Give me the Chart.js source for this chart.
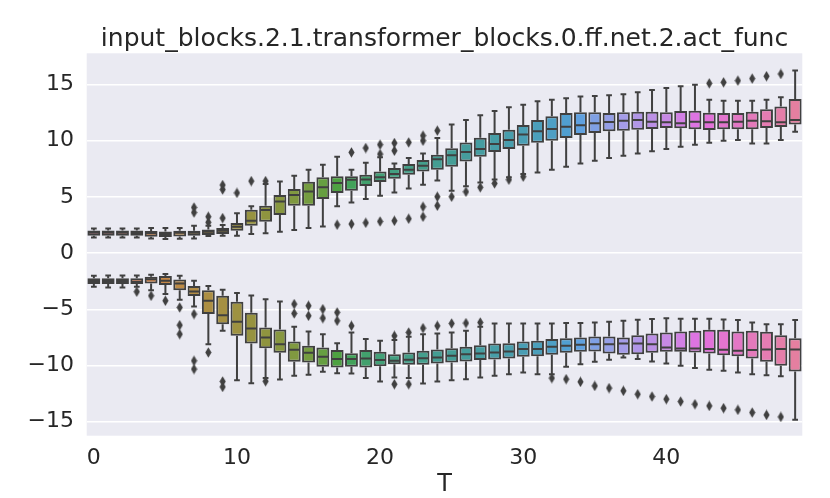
<!DOCTYPE html>
<html><head><meta charset="utf-8">
<script src="https://cdn.jsdelivr.net/npm/chart.js@4.4.0/dist/chart.umd.min.js"></script>
<style>html,body{margin:0;padding:0;background:#fff;}#wrap{width:830px;height:498px;}</style>
</head><body><div id="wrap"><canvas id="c" width="830" height="498"></canvas></div>
<script>
const categories = [0,1,2,3,4,5,6,7,8,9,10,11,12,13,14,15,16,17,18,19,20,21,22,23,24,25,26,27,28,29,30,31,32,33,34,35,36,37,38,39,40,41,42,43,44,45,46,47,48,49];
const xTickLabels = [0,10,20,30,40];
const yTicks = [-15,-10,-5,0,5,10,15];
const titleText = 'input_blocks.2.1.transformer_blocks.0.ff.net.2.act_func';
const xLabel = 'T';

// upper group (positive activations)
const upperLow  = [1.39,1.39,1.39,1.39,1.30,1.24,1.27,1.30,1.51,1.54,1.54,1.69,1.75,1.89,2.04,2.22,2.37,4.15,4.50,4.80,5.10,5.39,5.75,6.08,6.46,5.54,5.93,6.28,6.55,6.73,7.03,7.17,7.41,7.68,7.97,8.21,8.45,8.66,8.86,9.04,9.25,9.46,9.64,9.81,9.99,10.05,9.75,9.75,10.05,10.79];
const upperQ1   = [1.54,1.54,1.54,1.54,1.45,1.42,1.48,1.54,1.60,1.69,1.98,2.43,2.78,3.38,4.21,4.21,4.80,5.33,5.54,5.96,6.31,6.61,6.97,7.26,7.41,7.68,8.15,8.57,8.98,9.25,9.55,9.81,9.99,10.23,10.50,10.67,10.82,10.88,10.97,11.03,11.12,11.09,11.00,10.94,11.00,11.00,11.00,11.12,11.21,11.42];
const upperMed  = [1.81,1.81,1.80,1.78,1.75,1.69,1.81,1.81,1.89,1.98,2.34,2.87,3.82,4.59,5.16,5.48,5.84,6.22,6.52,6.55,6.73,7.03,7.41,7.77,8.33,8.69,8.98,9.25,9.69,10.05,10.53,10.82,11.03,11.24,11.36,11.53,11.65,11.77,11.83,11.68,11.62,11.53,11.68,11.62,11.62,11.68,11.77,11.71,11.62,11.83];
const upperQ3   = [2.01,2.01,2.01,2.01,1.95,1.92,1.98,1.98,2.10,2.22,2.67,3.85,4.21,5.16,5.69,6.34,6.73,6.82,6.82,6.97,7.26,7.56,7.92,8.27,8.75,9.31,9.84,10.26,10.67,10.97,11.39,11.83,12.16,12.45,12.51,12.51,12.45,12.51,12.57,12.57,12.51,12.63,12.66,12.48,12.45,12.45,12.57,12.78,13.02,13.70];
const upperHigh = [2.19,2.19,2.19,2.19,2.22,2.22,2.22,2.43,2.43,2.49,3.53,4.15,6.15,6.37,6.88,7.40,7.86,8.57,7.41,8.03,8.51,7.97,8.45,8.86,10.23,11.42,11.83,12.25,12.63,12.96,13.19,13.49,13.64,13.76,13.91,13.97,14.03,14.11,14.29,14.50,14.68,14.83,14.97,13.64,13.55,13.55,13.55,13.64,13.85,16.22];
const upperOut  = [[],[],[],[],[],[],[],[3.6,4.05],[2.73,3.23],[3.11,5.65,6.05],[5.35],[6.4],[6.4],[],[],[],[],[2.52],[2.58,8.95],[2.69,9.34],[2.81,8.8,9.64],[2.87,9.10,9.78],[3.05,9.84],[3.23,4.12,9.99,10.44],[4.21,5.01,10.88],[5.01],[5.45],[5.84],[6.19],[6.52],[6.79],[],[],[],[],[],[],[],[],[],[],[],[],[15.09],[15.18],[15.33],[15.51],[15.72],[15.92],[]];

// lower group (negative activations)
const lowerLow  = [-3.00,-3.06,-3.06,-3.00,-3.30,-3.65,-4.16,-4.75,-8.10,-6.91,-11.30,-11.57,-11.10,-11.24,-10.92,-10.83,-10.56,-10.68,-10.71,-11.12,-11.42,-11.07,-11.12,-11.60,-11.42,-11.30,-11.21,-11.07,-10.92,-10.77,-10.62,-10.77,-10.77,-10.12,-9.88,-9.67,-9.49,-9.29,-9.43,-9.64,-9.82,-10.03,-10.21,-10.38,-10.47,-10.62,-10.77,-10.86,-10.95,-14.83];
const lowerQ1   = [-2.76,-2.76,-2.76,-2.76,-2.70,-2.85,-3.30,-3.83,-5.43,-6.32,-7.36,-8.04,-8.46,-8.87,-9.67,-9.73,-10.12,-10.18,-10.12,-10.18,-10.06,-9.88,-9.94,-9.94,-9.82,-9.73,-9.64,-9.52,-9.46,-9.38,-9.23,-9.17,-9.05,-8.87,-8.78,-8.75,-8.93,-9.05,-8.99,-8.87,-8.78,-8.78,-8.84,-8.93,-9.08,-9.17,-9.38,-9.67,-10.03,-10.53];
const lowerMed  = [-2.49,-2.49,-2.49,-2.55,-2.32,-2.46,-2.70,-3.41,-4.24,-5.52,-6.11,-6.71,-7.51,-8.10,-8.60,-8.87,-9.23,-9.43,-9.43,-9.38,-9.52,-9.58,-9.49,-9.35,-9.29,-9.14,-8.99,-8.93,-8.84,-8.75,-8.54,-8.54,-8.34,-8.25,-8.16,-8.10,-8.10,-8.04,-8.04,-8.10,-8.40,-8.49,-8.49,-8.54,-8.60,-8.69,-8.63,-8.57,-8.54,-8.57];
const lowerQ3   = [-2.23,-2.23,-2.23,-2.23,-2.11,-2.05,-2.35,-2.94,-3.30,-3.80,-4.33,-5.31,-6.62,-6.80,-7.86,-8.25,-8.40,-8.63,-8.90,-8.63,-8.78,-8.99,-8.84,-8.69,-8.57,-8.46,-8.34,-8.19,-8.04,-8.01,-7.86,-7.80,-7.65,-7.57,-7.51,-7.42,-7.42,-7.51,-7.30,-7.15,-7.06,-6.97,-6.91,-6.82,-6.82,-6.97,-6.91,-7.00,-7.30,-7.57];
const lowerHigh = [-2.02,-1.99,-1.99,-1.99,-1.93,-1.87,-2.02,-2.46,-2.94,-3.27,-3.56,-3.77,-4.10,-4.30,-6.56,-6.97,-7.21,-8.01,-7.06,-7.65,-7.80,-7.74,-7.45,-7.21,-7.15,-7.06,-6.91,-6.56,-6.26,-6.26,-6.26,-6.26,-6.26,-6.23,-6.23,-6.17,-6.11,-6.02,-5.93,-5.87,-5.79,-5.85,-5.85,-5.85,-5.90,-5.96,-6.17,-6.32,-6.32,-5.96];
const lowerOut  = [[],[],[],[-3.44],[-3.80],[-4.24],[-4.84,-6.41,-7.21],[-5.43,-9.58,-10.32],[-8.84],[-11.42,-11.90],[],[],[-11.4],[],[-4.54,-5.37],[-4.69,-5.58],[-4.99,-5.79],[-5.28,-6.02],[-6.47],[],[],[-11.66,-7.36],[-11.66,-7.06],[-6.68],[-6.47],[-6.26],[-6.23],[-6.17],[],[],[],[],[-11.12],[-11.21],[-11.45],[-11.81],[-12.01],[-12.25],[-12.55],[-12.76],[-12.99],[-13.2],[-13.44],[-13.59],[-13.79],[-13.94],[-14.18],[-14.39],[-14.57],[]];

// ---- seaborn husl palette (h=0.01, s=0.9, l=0.65), desaturated 0.75 ----
const M = [[3.2406,-1.5372,-0.4986],[-0.9689,1.8758,0.0415],[0.0557,-0.2040,1.0570]];
function maxChroma(L,H){
  const hr=H*Math.PI/180, sH=Math.sin(hr), cH=Math.cos(hr);
  const sub1=Math.pow(L+16,3)/1560896, sub2=sub1>0.008856?sub1:L/903.3;
  let res=Infinity;
  for(const [m1,m2,m3] of M){
    const top=(0.99915*m1+1.05122*m2+1.14460*m3)*sub2;
    const rb=0.86330*m3-0.17266*m2, lb=0.12949*m3-0.38848*m1;
    const bottom=(rb*sH+lb*cH)*sub2;
    for(const t of [0,1]){const C=L*(top-1.05122*t)/(bottom+0.17266*sH*t); if(C>0&&C<res)res=C;}
  }
  return res;
}
function huslToRgb(H,S,L){
  const C=maxChroma(L,H)/100*S, hr=H*Math.PI/180;
  const U=Math.cos(hr)*C, V=Math.sin(hr)*C;
  const t=(L+16)/116, vY=Math.pow(t,3)>0.008856?Math.pow(t,3):(116*t-16)/903.3;
  const vU=U/(13*L)+0.19784, vV=V/(13*L)+0.46834;
  const Y=vY, X=-(9*Y*vU)/((vU-4)*vV-vU*vV), Z=(9*Y-15*vV*Y-vV*X)/(3*vV);
  return M.map(r=>{const c=r[0]*X+r[1]*Y+r[2]*Z; const v=c<=0.0031308?12.92*c:1.055*Math.pow(c,1/2.4)-0.055; return Math.min(1,Math.max(0,v));});
}
function rgbToHls(r,g,b){
  const mx=Math.max(r,g,b), mn=Math.min(r,g,b), l=(mx+mn)/2;
  if(mx===mn) return [0,l,0];
  const s=l<=0.5?(mx-mn)/(mx+mn):(mx-mn)/(2-mx-mn);
  const rc=(mx-r)/(mx-mn), gc=(mx-g)/(mx-mn), bc=(mx-b)/(mx-mn);
  let h; if(r===mx)h=bc-gc; else if(g===mx)h=2+rc-bc; else h=4+gc-rc;
  h=((h/6)%1+1)%1; return [h,l,s];
}
const nCat = categories.length;
const hls = categories.map((_,i)=>{const h=((i/nCat+0.01)%1)*359; const [r,g,b]=huslToRgb(h,0.9*99,0.65*99); return rgbToHls(r,g,b);});
const boxColors = hls.map(([h,l,s])=>`hsl(${(h*360).toFixed(2)},${(s*0.75*100).toFixed(2)}%,${(l*100).toFixed(2)}%)`);
const lum = Math.min(...hls.map(c=>c[1]))*0.6;
const gv = Math.round(lum*255);
const gray = `rgb(${gv},${gv},${gv})`;

// diamond marker
const dia = document.createElement('canvas'); dia.width=7; dia.height=11;
(function(){const c=dia.getContext('2d'); c.fillStyle=gray; c.beginPath(); c.moveTo(3.5,0.3); c.lineTo(6.6,5.5); c.lineTo(3.5,10.7); c.lineTo(0.4,5.5); c.closePath(); c.fill();})();

const labels = categories.map(String);
const upperBoxes = upperQ1.map((q,i)=>[q,upperQ3[i]]);
const lowerBoxes = lowerQ1.map((q,i)=>[q,lowerQ3[i]]);
const fliers = [];
categories.forEach((c,i)=>{upperOut[i].forEach(v=>fliers.push({x:String(c),y:v})); lowerOut[i].forEach(v=>fliers.push({x:String(c),y:v}));});

const FONT='DejaVu Sans', TXT='#262626';
const groups=[[upperLow,upperQ1,upperMed,upperQ3,upperHigh],[lowerLow,lowerQ1,lowerMed,lowerQ3,lowerHigh]];

const bgPlugin={id:'bg',beforeDraw(chart){const {ctx,chartArea:a}=chart;ctx.save();ctx.fillStyle='#eaeaf2';ctx.fillRect(a.left,a.top,a.right-a.left,a.bottom-a.top);ctx.restore();}};
const titlePlugin={id:'ttl',afterDraw(chart){const {ctx,chartArea:a}=chart;ctx.save();ctx.fillStyle=TXT;ctx.font=`25px "${FONT}"`;ctx.textAlign='center';ctx.textBaseline='alphabetic';ctx.fillText(titleText,(a.left+a.right)/2,45.5);ctx.restore();}};
const boxPlugin={id:'boxparts',afterDatasetsDraw(chart){
  const {ctx,scales:{x,y}}=chart;
  const step=x.getPixelForValue(1)-x.getPixelForValue(0);
  const bw=step*0.9, cw=step*0.4;
  ctx.save();ctx.strokeStyle=gray;ctx.lineWidth=2;ctx.lineCap='butt';
  groups.forEach(([lo,q1,md,q3,hi])=>{
    categories.forEach((c,i)=>{
      const cx=x.getPixelForValue(i);
      const yl=y.getPixelForValue(lo[i]), y1=y.getPixelForValue(q1[i]), ym=y.getPixelForValue(md[i]), y3=y.getPixelForValue(q3[i]), yh=y.getPixelForValue(hi[i]);
      ctx.beginPath();
      ctx.moveTo(cx,y1);ctx.lineTo(cx,yl);ctx.moveTo(cx-cw/2,yl);ctx.lineTo(cx+cw/2,yl);
      ctx.moveTo(cx,y3);ctx.lineTo(cx,yh);ctx.moveTo(cx-cw/2,yh);ctx.lineTo(cx+cw/2,yh);
      ctx.moveTo(cx-bw/2+1,ym);ctx.lineTo(cx+bw/2-1,ym);
      ctx.stroke();
    });
  });
  ctx.restore();
}};

new Chart(document.getElementById('c'),{
  type:'bar',
  data:{labels,datasets:[
    {label:'upper',data:upperBoxes,backgroundColor:boxColors,borderColor:gray,borderWidth:2,borderSkipped:false,grouped:false,barPercentage:0.9,categoryPercentage:1,order:2},
    {label:'lower',data:lowerBoxes,backgroundColor:boxColors,borderColor:gray,borderWidth:2,borderSkipped:false,grouped:false,barPercentage:0.9,categoryPercentage:1,order:2},
    {type:'line',label:'fliers',data:fliers,showLine:false,pointStyle:dia,pointRadius:3,order:1}
  ]},
  options:{
    responsive:false,animation:false,
    layout:{padding:{left:0,right:27.7,top:53.3,bottom:0}},
    plugins:{legend:{display:false},tooltip:{enabled:false},title:{display:false}},
    scales:{
      x:{type:'category',offset:true,
        grid:{display:false,drawTicks:false},border:{display:false},
        ticks:{autoSkip:false,maxRotation:0,padding:9,color:TXT,font:{family:FONT,size:22},
          callback:(v,i)=>xTickLabels.includes(categories[i])?String(categories[i]):null},
        title:{display:true,text:xLabel,color:TXT,font:{family:FONT,size:24,lineHeight:1.1},padding:{top:0,bottom:0}},
        afterFit:(s)=>{s.height=62.3;}
      },
      y:{type:'linear',min:-16.24,max:17.76,
        grid:{color:'#ffffff',lineWidth:1.4,drawTicks:false},border:{display:false},
        ticks:{padding:12.7,color:TXT,font:{family:FONT,size:22},callback:(v)=>v<0?'\u2212'+Math.abs(v):String(v)},
        afterBuildTicks:(s)=>{s.ticks=yTicks.map(v=>({value:v}));},
        afterFit:(s)=>{s.width=86.7;}
      }
    }
  },
  plugins:[bgPlugin,boxPlugin,titlePlugin]
});
</script></body></html>
